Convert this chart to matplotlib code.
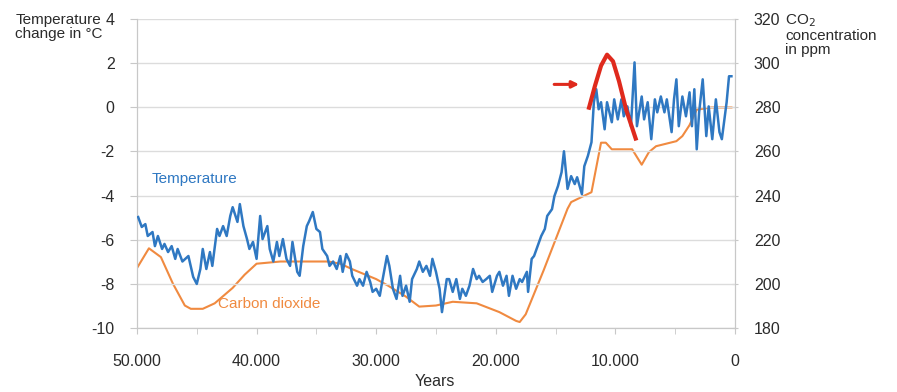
import numpy as np
import matplotlib
matplotlib.use("Agg")
from matplotlib import pyplot as plt
from matplotlib.ticker import MultipleLocator, FuncFormatter

# temperature record (years before present, change in degC)
temp_years = [49900, 49600, 49300, 49100, 48700, 48500, 48250, 47900, 47700, 47400,
              47100, 46800, 46600, 46200, 45700, 45300, 45000, 44700, 44500, 44200,
              43900, 43700, 43300, 43100, 42800, 42500, 42200, 42000, 41600, 41400,
              41100, 40800, 40600, 40300, 40000, 39700, 39500, 39100, 38900, 38600,
              38300, 38100, 37800, 37500, 37200, 37000, 36600, 36400, 36100, 35800,
              35600, 35300, 35000, 34700, 34500, 34100, 33900, 33600, 33300, 33000,
              32800, 32500, 32200, 32000, 31600, 31400, 31100, 30800, 30500, 30300,
              30000, 29700, 29500, 29100, 28900, 28600, 28300, 28000, 27800, 27500,
              27200, 27000, 26600, 26400, 26100, 25800, 25500, 25300, 25000, 24700,
              24500, 24100, 23900, 23600, 23300, 23000, 22800, 22500, 22200, 21900,
              21600, 21400, 21100, 20800, 20500, 20300, 19900, 19700, 19400, 19100,
              18900, 18600, 18300, 18000, 17800, 17400, 17300, 17000, 16800, 16500,
              16200, 15900, 15700, 15300, 15100, 14800, 14500, 14300, 14000, 13700,
              13400, 13200, 12800, 12600, 12300, 12000, 11800, 11600, 11400, 11200,
              10900, 10700, 10300, 10100, 9800, 9500, 9300, 9000, 8700, 8400,
              8200, 7800, 7600, 7300, 7000, 6700, 6500, 6200, 5900, 5700,
              5300, 5100, 4900, 4700, 4400, 4100, 3800, 3600, 3400, 3200,
              3000, 2700, 2400, 2200, 1900, 1600, 1300, 1100, 700, 500, 300]
temp_values = [-4.98, -5.43, -5.30, -5.84, -5.66, -6.30, -5.84, -6.43, -6.20, -6.57,
               -6.30, -6.88, -6.43, -7.00, -6.75, -7.70, -8.02, -7.34, -6.43, -7.34,
               -6.57, -7.20, -5.52, -5.84, -5.39, -5.84, -4.93, -4.53, -5.20, -4.39,
               -5.39, -5.98, -6.43, -6.11, -6.88, -4.93, -5.98, -5.39, -6.43, -7.00,
               -6.11, -6.75, -5.98, -6.88, -7.20, -6.11, -7.47, -7.65, -6.30, -5.39,
               -5.16, -4.75, -5.52, -5.66, -6.43, -6.75, -7.20, -7.00, -7.34, -6.75,
               -7.47, -6.66, -7.00, -7.65, -8.10, -7.80, -8.10, -7.47, -7.93, -8.38,
               -8.24, -8.56, -7.93, -6.75, -7.20, -8.24, -8.70, -7.65, -8.56, -8.10,
               -8.83, -7.80, -7.34, -7.00, -7.47, -7.20, -7.65, -6.88, -7.47, -8.24,
               -9.30, -7.80, -7.80, -8.38, -7.80, -8.70, -8.24, -8.56, -8.10, -7.34,
               -7.80, -7.65, -7.93, -7.80, -7.65, -8.38, -7.65, -7.47, -8.10, -7.65,
               -8.56, -7.65, -8.24, -7.80, -7.93, -7.47, -8.38, -6.88, -6.75, -6.30,
               -5.84, -5.52, -4.93, -4.62, -4.03, -3.57, -2.94, -1.99, -3.70, -3.12,
               -3.48, -3.17, -3.94, -2.67, -2.20, -1.58, 0.24, 0.83, -0.08, 0.24,
               -0.99, 0.24, -0.67, 0.37, -0.54, 0.37, -0.40, 0.05, -0.85, 2.05,
               -0.85, 0.50, -0.54, 0.24, -1.44, 0.37, -0.22, 0.50, -0.22, 0.37,
               -1.12, 0.37, 1.28, -0.85, 0.50, -0.40, 0.69, -0.85, 0.83, -1.90,
               -0.22, 1.28, -1.30, 0.05, -1.44, 0.37, -1.12, -1.44, 0.24, 1.42, 1.42]

# CO2 concentration (years before present, ppm)
co2_years = [50000, 49000, 48000, 47000, 46000, 45500, 44500, 43500, 42000, 41000,
             40000, 38000, 36000, 34000, 33000, 32000, 30000, 29000, 27500, 26400,
             25000, 23600, 21600, 19700, 18300, 18000, 17500, 16000, 14000, 13700,
             12000, 11200, 10800, 10300, 9700, 8600, 7800, 7200, 6600, 4900,
             4400, 3800, 3200, 2000, 300]
co2_values = [207, 216, 212, 200, 190, 188.5, 188.5, 191, 198, 204,
              209, 210, 210, 210, 209, 206.5, 202, 199, 194, 189.5,
              190, 191.7, 191, 187, 183, 182.5, 186, 206, 234, 237,
              241.5, 264, 264, 261, 261, 261, 254, 259.7, 262.4, 264.7,
              267, 272, 279, 280, 280]

# highlighted warm period (red arc)
arc_years = [12250, 11700, 11200, 10700, 10200, 9700, 9100, 8250]
arc_values = [-0.1, 1.0, 1.9, 2.4, 2.1, 1.2, -0.1, -1.5]

temp_ticks = [-10, -8, -6, -4, -2, 0, 2, 4]
co2_ticks = [180, 200, 220, 240, 260, 280, 300, 320]

BLUE = "#2f78c2"
ORANGE = "#f08a40"
RED = "#df2a1d"
GRID = "#dcdcdc"
TXT = "#2b2b2b"

plt.rcParams["font.family"] = ["Liberation Sans", "DejaVu Sans"]

fig = plt.figure(figsize=(8.97, 3.92), dpi=100)
ax = fig.add_axes([0.1527, 0.1645, 0.8194 - 0.1527, 0.9503 - 0.1645])
ax2 = ax.twinx()

ax.set_xlim(50000, 0)
ax.set_ylim(-10, 4)
ax2.set_ylim(180, 320)

ax.grid(True, axis="y", color=GRID, linewidth=1.0, zorder=0)
ax.set_axisbelow(True)

for a in (ax, ax2):
    for s in a.spines.values():
        s.set_color("#c8c8c8")
    a.spines["top"].set_visible(False)

ax.set_yticks(temp_ticks)
ax.set_yticklabels([str(t) for t in temp_ticks])
ax2.set_yticks(co2_ticks)
ax.xaxis.set_major_locator(MultipleLocator(10000))
ax.xaxis.set_minor_locator(MultipleLocator(5000))
ax.xaxis.set_major_formatter(FuncFormatter(lambda v, p: "0" if v == 0 else f"{int(v):,}".replace(",", ".")))

ax.tick_params(axis="y", length=5, color="#c8c8c8", labelsize=11.5, labelcolor=TXT, pad=11)
ax2.tick_params(axis="y", length=5, color="#c8c8c8", labelsize=11.5, labelcolor=TXT, pad=11, direction="inout")
ax.tick_params(axis="x", which="both", length=4, color="#c8c8c8", labelsize=11.5, labelcolor=TXT, pad=15)

ax2.plot(co2_years, co2_values, color=ORANGE, linewidth=1.5, zorder=2)
ax.plot(temp_years, temp_values, color=BLUE, linewidth=1.8, zorder=3)
ax.set_zorder(ax2.get_zorder() + 1)
ax.patch.set_visible(False)

ax.plot(arc_years, arc_values, color=RED, linewidth=3, solid_capstyle="butt", zorder=4)
ax.annotate("", xy=(12800, 1.05), xytext=(15350, 1.05),
            arrowprops=dict(arrowstyle="-|>", color=RED, lw=2.2, mutation_scale=10))

ax.text(48750, -3.27, "Temperature", color=BLUE, fontsize=11, va="center", ha="left")
ax.text(43250, -8.95, "Carbon dioxide", color=ORANGE, fontsize=11, va="center", ha="left")

fig.text(0.017, 0.968, "Temperature\nchange in °C", fontsize=11, color=TXT,
         ha="left", va="top", linespacing=1.0)
fig.text(0.875, 0.968, "CO$_2$\nconcentration\nin ppm", fontsize=11, color=TXT,
         ha="left", va="top", linespacing=1.0)
fig.text(0.485, 0.008, "Years", fontsize=11.5, color=TXT, ha="center", va="bottom")

fig.savefig("out.png", dpi=100)
